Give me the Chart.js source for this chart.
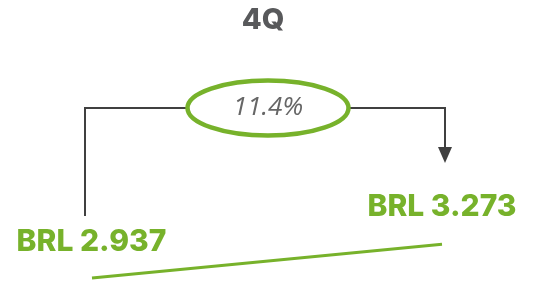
<!DOCTYPE html>
<html>
<head>
<meta charset="utf-8">
<script src="https://cdn.jsdelivr.net/npm/chart.js@4/dist/chart.umd.min.js"></script>
<style>
  html, body { margin: 0; padding: 0; background: #fff; }
  #wrap { width: 559px; height: 282px; position: relative; }
</style>
</head>
<body>
<div id="wrap"><canvas id="growthChart" width="559" height="282"></canvas></div>
<script>
const title = '4Q';
const categories = ['4Q prev', '4Q'];
const values = [2.937, 3.273];
const valueLabels = ['BRL 2.937', 'BRL 3.273'];
const growthLabel = '11.4%';

const green = '#77b22b';
const gray = '#58595b';
const dark = '#404040';

const overlay = {
    id: 'overlay',
    afterDraw(chart) {
        const ctx = chart.ctx;
        const pts = chart.getDatasetMeta(0).data;
        const p0 = pts[0], p1 = pts[1];
        ctx.save();

        // title
        ctx.fillStyle = gray;
        ctx.font = '800 29px Inter, "Open Sans", sans-serif';
        ctx.textAlign = 'center';
        ctx.textBaseline = 'alphabetic';
        ctx.fillText(title, 263, 29);

        // value labels
        ctx.fillStyle = green;
        ctx.font = '800 30px Inter, "Open Sans", sans-serif';
        ctx.fillText(valueLabels[0], p0.x - 0.5, p0.y - 27);
        ctx.fillText(valueLabels[1], p1.x, p1.y - 28);

        // bracket
        const topY = 108;
        const lx = p0.x - 7, rx = p1.x + 3;
        const cx = (p0.x + p1.x) / 2 + 1;
        const erx = 82, ery = 29;
        ctx.strokeStyle = dark;
        ctx.lineWidth = 2;
        ctx.beginPath();
        ctx.moveTo(lx, p0.y - 62);
        ctx.lineTo(lx, topY);
        ctx.lineTo(cx - erx, topY);
        ctx.moveTo(cx + erx, topY);
        ctx.lineTo(rx, topY);
        ctx.lineTo(rx, 149);
        ctx.stroke();
        ctx.fillStyle = dark;
        ctx.beginPath();
        ctx.moveTo(rx - 7, 147);
        ctx.lineTo(rx + 7, 147);
        ctx.lineTo(rx, 163);
        ctx.closePath();
        ctx.fill();

        // ellipse
        ctx.strokeStyle = green;
        ctx.lineWidth = 4.5;
        ctx.beginPath();
        ctx.ellipse(cx, topY, erx - 1.5, ery - 1.5, 0, 0, Math.PI * 2);
        ctx.stroke();

        ctx.fillStyle = '#666';
        ctx.font = 'italic 26px "Open Sans", Inter, sans-serif';
        ctx.textBaseline = 'middle';
        ctx.fillText(growthLabel, cx, topY);
        ctx.restore();
    }
};

new Chart(document.getElementById('growthChart'), {
    type: 'line',
    data: {
        labels: categories,
        datasets: [{
            data: values,
            borderColor: green,
            borderWidth: 3,
            borderCapStyle: 'butt',
            pointRadius: 0,
            tension: 0,
            clip: 10
        }]
    },
    options: {
        responsive: false,
        animation: false,
        layout: { padding: { left: 92, right: 117, top: 0, bottom: 0.3 } },
        scales: {
            x: { display: false, offset: false },
            y: { display: false, min: 2.9, max: 5.7 }
        },
        plugins: { legend: { display: false }, tooltip: { enabled: false } }
    },
    plugins: [overlay]
});
</script>
</body>
</html>
